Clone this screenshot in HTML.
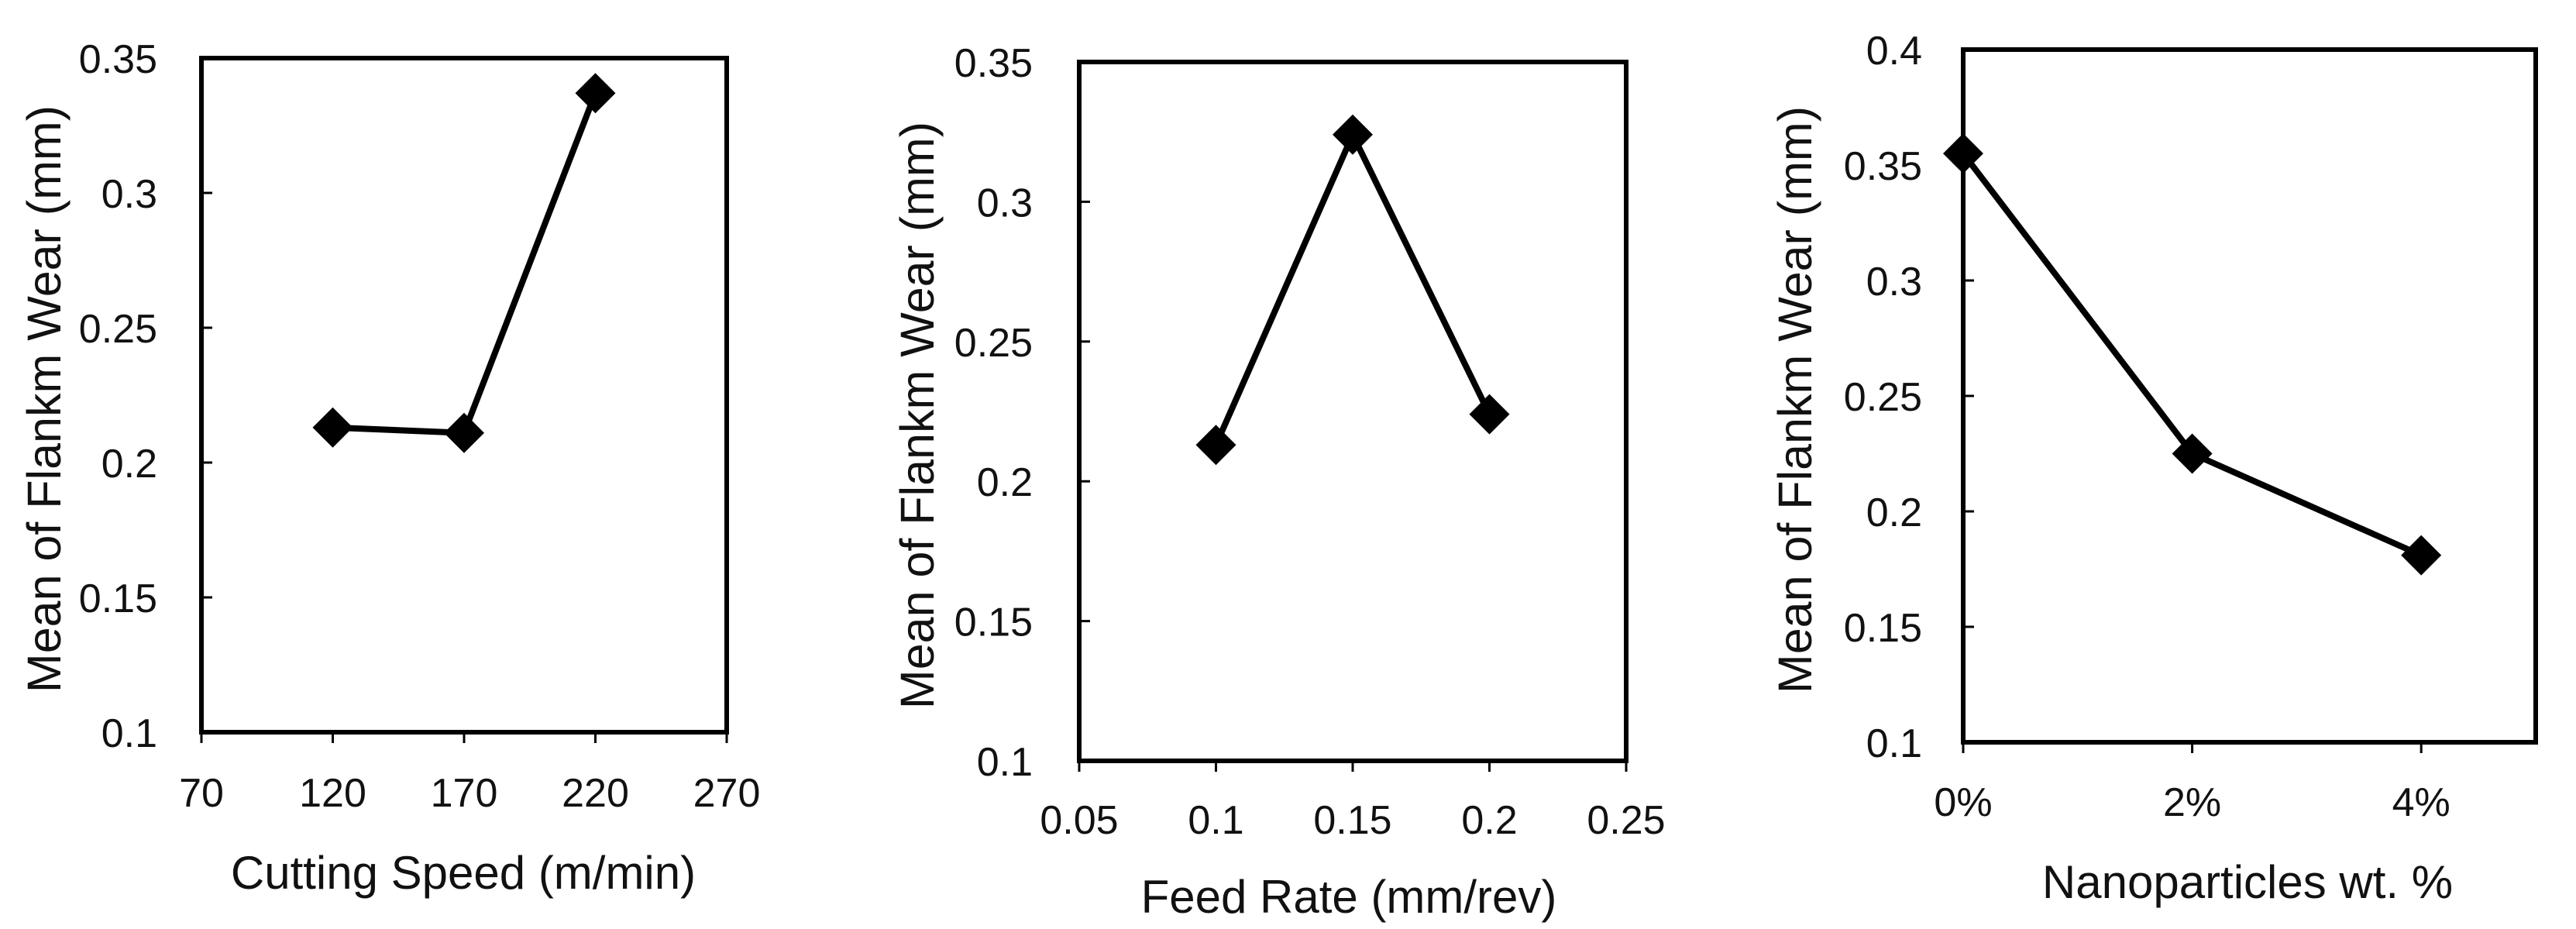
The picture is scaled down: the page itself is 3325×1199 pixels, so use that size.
<!DOCTYPE html>
<html><head><meta charset="utf-8">
<style>
html,body{margin:0;padding:0;background:#fff;}
svg{display:block;}
text{font-family:"Liberation Sans",sans-serif;fill:#111;}
</style></head>
<body>
<svg id="fig" width="3325" height="1199" viewBox="0 0 3325 1199" xmlns="http://www.w3.org/2000/svg"></svg>
<script>
// Chart 1: cutting speed
const speedX = [120, 170, 220];
const speedY = [0.213, 0.211, 0.337];
const speedXTicks = [70, 120, 170, 220, 270];
const speedYTicks = [0.1, 0.15, 0.2, 0.25, 0.3, 0.35];
const speedYLabels = ["0.1", "0.15", "0.2", "0.25", "0.3", "0.35"];
// Chart 2: feed rate
const feedX = [0.1, 0.15, 0.2];
const feedY = [0.213, 0.324, 0.224];
const feedXTicks = [0.05, 0.1, 0.15, 0.2, 0.25];
const feedXLabels = ["0.05", "0.1", "0.15", "0.2", "0.25"];
const feedYTicks = [0.1, 0.15, 0.2, 0.25, 0.3, 0.35];
const feedYLabels = ["0.1", "0.15", "0.2", "0.25", "0.3", "0.35"];
// Chart 3: nanoparticles
const nanoCats = ["0%", "2%", "4%"];
const nanoY = [0.355, 0.225, 0.181];
const nanoYTicks = [0.1, 0.15, 0.2, 0.25, 0.3, 0.35, 0.4];
const nanoYLabels = ["0.1", "0.15", "0.2", "0.25", "0.3", "0.35", "0.4"];

const NS = "http://www.w3.org/2000/svg";
const svg = document.getElementById("fig");
function mk(tag, attrs, parent) {
  const e = document.createElementNS(NS, tag);
  for (const k in attrs) e.setAttribute(k, attrs[k]);
  parent.appendChild(e);
  return e;
}

function drawChart(cfg) {
  const g = mk("g", {}, svg);
  
  
  const L = cfg.left, R = cfg.right, T = cfg.top, B = cfg.bottom;
  const sx = v => L + (v - cfg.xmin) / (cfg.xmax - cfg.xmin) * (R - L);
  const sy = v => B - (v - cfg.ymin) / (cfg.ymax - cfg.ymin) * (B - T);
  const frame = mk("rect", {x: L, y: T, width: R - L, height: B - T, fill: "none", stroke: "#000", "stroke-width": 6}, g);
  
  
  cfg.yTicks.forEach((v, i) => {
    const y = sy(v);
    const tk = mk("line", {x1: L, x2: L + 14, y1: y, y2: y, stroke: "#000", "stroke-width": 3}, g);
    
    
    const t = mk("text", {x: cfg.yLabelRight, y: y + 19, "text-anchor": "end", "font-size": 52}, g);
    t.textContent = cfg.yLabels[i];
    
    
  });
  cfg.xTicks.forEach((v, i) => {
    const x = sx(v);
    const tk = mk("line", {x1: x, x2: x, y1: B, y2: B + 14, stroke: "#000", "stroke-width": 3}, g);
    
    
    const t = mk("text", {x: x, y: cfg.xLabelY + 19, "text-anchor": "middle", "font-size": 52}, g);
    t.textContent = cfg.xLabels[i];
    
    
  });
  const pts = cfg.xs.map((v, i) => sx(v) + "," + sy(cfg.ys[i])).join(" ");
  const pl = mk("polyline", {points: pts, fill: "none", stroke: "#000", "stroke-width": 8, "stroke-linejoin": "round"}, g);
  
  
  cfg.xs.forEach((v, i) => {
    const x = sx(v), y = sy(cfg.ys[i]), r = 26;
    const d = mk("polygon", {points: `${x},${y - r} ${x + r},${y} ${x},${y + r} ${x - r},${y}`, fill: "#000"}, g);
    
    
  });
  const xt = mk("text", {x: cfg.xTitleX, y: cfg.xTitleY + 21, "text-anchor": "middle", "font-size": 60}, g);
  xt.textContent = cfg.xTitle;
  
  
  const cy = (T + B) / 2 + 5;
  const yt = mk("text", {x: cfg.yTitleX, y: cy, "text-anchor": "middle", "font-size": 61, transform: `rotate(-90 ${cfg.yTitleX} ${cy}) translate(0 21)`}, g);
  yt.textContent = "Mean of Flankm Wear (mm)";
  
  
}

drawChart({name: "cutting-speed-chart", left: 260, right: 938, top: 75, bottom: 945,
  xmin: 70, xmax: 270, ymin: 0.1, ymax: 0.35, xs: speedX, ys: speedY,
  xTicks: speedXTicks, xLabels: speedXTicks.map(String), yTicks: speedYTicks, yLabels: speedYLabels,
  yLabelRight: 203, xLabelY: 1022, xTitle: "Cutting Speed  (m/min)", xTitleX: 598, xTitleY: 1126, yTitleX: 57});

drawChart({name: "feed-rate-chart", left: 1393, right: 2099, top: 80, bottom: 982,
  xmin: 0.05, xmax: 0.25, ymin: 0.1, ymax: 0.35, xs: feedX, ys: feedY,
  xTicks: feedXTicks, xLabels: feedXLabels, yTicks: feedYTicks, yLabels: feedYLabels,
  yLabelRight: 1333, xLabelY: 1057, xTitle: "Feed Rate  (mm/rev)", xTitleX: 1741, xTitleY: 1157, yTitleX: 1184});

drawChart({name: "nanoparticles-chart", left: 2534, right: 3273, top: 64, bottom: 958,
  xmin: 0, xmax: 2.5, ymin: 0.1, ymax: 0.4, xs: nanoCats.map((c, i) => i), ys: nanoY,
  xTicks: nanoCats.map((c, i) => i), xLabels: nanoCats, yTicks: nanoYTicks, yLabels: nanoYLabels,
  yLabelRight: 2481, xLabelY: 1034, xTitle: "Nanoparticles  wt. %", xTitleX: 2901, xTitleY: 1138, yTitleX: 2317});
</script>
</body></html>
